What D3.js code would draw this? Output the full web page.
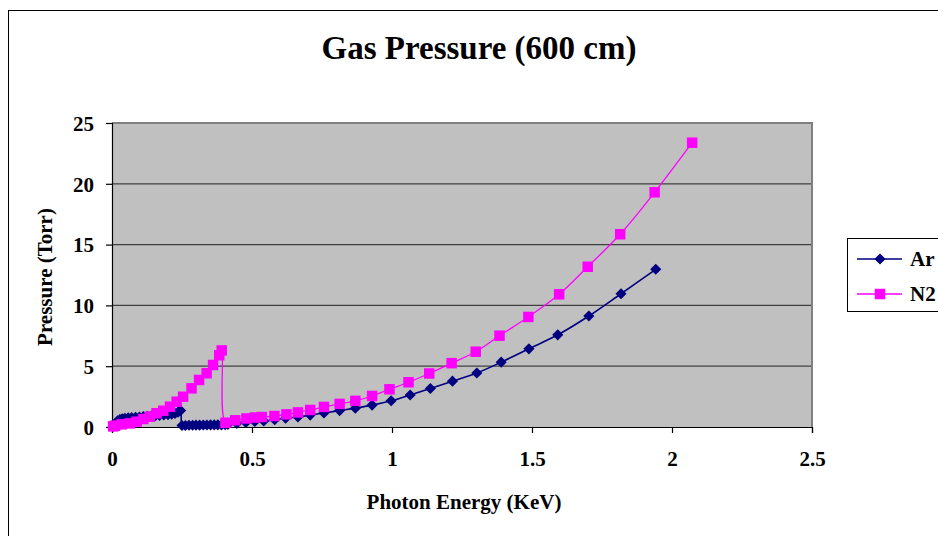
<!DOCTYPE html>
<html>
<head>
<meta charset="utf-8">
<script src="https://cdn.jsdelivr.net/npm/d3@7"></script>
<style>
  html, body { margin: 0; padding: 0; background: #fff; }
  svg { display: block; }
  text { font-family: "Liberation Serif", "Times New Roman", serif; font-weight: bold; fill: #000; }
</style>
</head>
<body>
<svg id="chart" width="938" height="536"></svg>
<script>
// Argon: photon energy (keV) and pressure (Torr)
const arEnergy = [
  0.004, 0.012, 0.020, 0.028, 0.036, 0.046, 0.058, 0.070, 0.084, 0.098,
  0.112, 0.126, 0.140, 0.155, 0.170, 0.185, 0.200, 0.213, 0.225, 0.236,
  0.245, 0.250, 0.262, 0.275, 0.288, 0.300, 0.313, 0.326, 0.339, 0.352,
  0.365, 0.378, 0.391, 0.404, 0.414, 0.446, 0.478, 0.510, 0.542, 0.581,
  0.620, 0.664, 0.708, 0.757, 0.813, 0.869, 0.929, 0.997, 1.065, 1.137,
  1.216, 1.303, 1.390, 1.489, 1.592, 1.703, 1.818, 1.942
];
const arPressure = [
  0.05, 0.30, 0.50, 0.62, 0.68, 0.72, 0.75, 0.77, 0.80, 0.82,
  0.85, 0.87, 0.90, 0.93, 0.96, 0.99, 1.02, 1.06, 1.12, 1.22,
  1.35, 0.12, 0.12, 0.14, 0.14, 0.15, 0.15, 0.16, 0.16, 0.17,
  0.17, 0.18, 0.18, 0.20, 0.22, 0.30, 0.38, 0.45, 0.50, 0.60,
  0.72, 0.82, 0.98, 1.15, 1.35, 1.55, 1.80, 2.16, 2.63, 3.17,
  3.77, 4.44, 5.33, 6.43, 7.58, 9.13, 10.96, 12.97
];

// Nitrogen: photon energy (keV) and pressure (Torr)
const n2Energy = [
  0.004, 0.011, 0.035, 0.064, 0.088, 0.112, 0.135, 0.159, 0.183, 0.207,
  0.231, 0.254, 0.284, 0.311, 0.338, 0.361, 0.383, 0.392, 0.405, 0.440,
  0.480, 0.510, 0.535, 0.580, 0.623, 0.664, 0.708, 0.757, 0.813, 0.869,
  0.929, 0.991, 1.059, 1.133, 1.213, 1.299, 1.384, 1.487, 1.597, 1.699,
  1.815, 1.938, 2.072
];
const n2Pressure = [
  0.05, 0.11, 0.22, 0.30, 0.44, 0.66, 0.85, 1.13, 1.34, 1.67,
  2.08, 2.49, 3.18, 3.87, 4.42, 5.10, 5.90, 6.30, 0.35, 0.55,
  0.70, 0.78, 0.82, 0.90, 1.04, 1.20, 1.40, 1.65, 1.90, 2.15,
  2.55, 3.10, 3.68, 4.40, 5.25, 6.19, 7.51, 9.05, 10.91, 13.18,
  15.85, 19.30, 23.38
];

const xTicks = [0, 0.5, 1, 1.5, 2, 2.5];
const yTicks = [0, 5, 10, 15, 20, 25];

// Markers: Ar is a square turned 45° (diamond), N2 a plain square
const series = [
  { name: "Ar", color: "#000080", energy: arEnergy, pressure: arPressure, size: 62, rotate: 45, width: 1.6 },
  { name: "N2", color: "#FF00FF", energy: n2Energy, pressure: n2Pressure, size: 110, rotate: 0, width: 1.3 }
];

const svg = d3.select("#chart");
const W = 938, H = 536;
const plot = { left: 112, right: 812, top: 123, bottom: 427 };
const FONT = '"Liberation Serif", "Times New Roman", serif';

const x = d3.scaleLinear().domain([0, 2.5]).range([plot.left, plot.right]);
const y = d3.scaleLinear().domain([0, 25]).range([plot.bottom, plot.top]);

// Chart frame
svg.append("rect").attr("width", W).attr("height", H).attr("fill", "#fff");
svg.append("rect")
  .attr("x", 8.5).attr("y", 10.5)
  .attr("width", W + 20).attr("height", H + 20)
  .attr("fill", "none").attr("stroke", "#000").attr("stroke-width", 1);

// Title
svg.append("text")
  .attr("x", 479).attr("y", 59)
  .attr("text-anchor", "middle")
  .attr("font-size", 33)
  .text("Gas Pressure (600 cm)");

// Plot area
svg.append("rect")
  .attr("x", plot.left).attr("y", plot.top)
  .attr("width", plot.right - plot.left).attr("height", plot.bottom - plot.top)
  .attr("fill", "#C0C0C0");

// Horizontal gridlines
svg.append("g")
  .selectAll("line")
  .data(yTicks.filter(v => v > 0))
  .join("line")
  .attr("x1", plot.left).attr("x2", plot.right)
  .attr("y1", d => y(d)).attr("y2", d => y(d))
  .attr("stroke", "#404040").attr("stroke-width", 1.3);

// Plot area border (top and right)
svg.append("path")
  .attr("d", `M${plot.left},${plot.top}H${plot.right}V${plot.bottom}`)
  .attr("fill", "none").attr("stroke", "#808080").attr("stroke-width", 2);

// Axes
const xAxis = d3.axisBottom(x).tickValues(xTicks).tickFormat(d3.format("")).tickSize(6).tickPadding(18);
const yAxis = d3.axisLeft(y).tickValues(yTicks).tickFormat(d3.format("")).tickSize(6).tickPadding(12);

const gx = svg.append("g").attr("transform", `translate(0,${plot.bottom})`).call(xAxis);
const gy = svg.append("g").attr("transform", `translate(${plot.left},0)`).call(yAxis);
[gx, gy].forEach(g => {
  g.select(".domain").attr("stroke", "#000").attr("stroke-width", 1.2);
  g.selectAll(".tick line").attr("stroke", "#000").attr("stroke-width", 1.2);
  g.selectAll(".tick text")
    .attr("fill", "#000")
    .style("font-family", FONT)
    .style("font-weight", "bold")
    .style("font-size", "21px");
});
gy.selectAll(".tick text").attr("dy", "0.35em");

// Axis titles
svg.append("text")
  .attr("x", 464).attr("y", 509)
  .attr("text-anchor", "middle")
  .attr("font-size", 21)
  .text("Photon Energy (KeV)");
svg.append("text")
  .attr("transform", "translate(52,277) rotate(-90)")
  .attr("text-anchor", "middle")
  .attr("font-size", 21)
  .text("Pressure (Torr)");

// Series lines and markers
const line = d3.line()
  .x(d => x(d[0]))
  .y(d => y(d[1]))
  .curve(d3.curveCatmullRom.alpha(0.5));

series.forEach(s => {
  const pts = s.energy.map((e, i) => [e, s.pressure[i]]);
  const g = svg.append("g");
  g.append("path")
    .datum(pts)
    .attr("d", line)
    .attr("fill", "none")
    .attr("stroke", s.color)
    .attr("stroke-width", s.width);
  g.selectAll("path.marker")
    .data(pts)
    .join("path")
    .attr("class", "marker")
    .attr("d", d3.symbol().type(d3.symbolSquare).size(s.size))
    .attr("transform", d => `translate(${x(d[0])},${y(d[1])}) rotate(${s.rotate})`)
    .attr("fill", s.color);
});

// Legend
const legend = svg.append("g");
legend.append("rect")
  .attr("x", 847.5).attr("y", 238.5)
  .attr("width", 120).attr("height", 73)
  .attr("fill", "#fff").attr("stroke", "#000").attr("stroke-width", 1);
series.forEach((s, i) => {
  const ly = 259 + i * 35;
  legend.append("line")
    .attr("x1", 857).attr("x2", 902)
    .attr("y1", ly).attr("y2", ly)
    .attr("stroke", s.color).attr("stroke-width", s.width);
  legend.append("path")
    .attr("d", d3.symbol().type(d3.symbolSquare).size(s.size)())
    .attr("transform", `translate(880,${ly}) rotate(${s.rotate})`)
    .attr("fill", s.color);
  legend.append("text")
    .attr("x", 910).attr("y", ly + 7)
    .attr("font-size", 21)
    .text(s.name);
});
</script>
</body>
</html>
